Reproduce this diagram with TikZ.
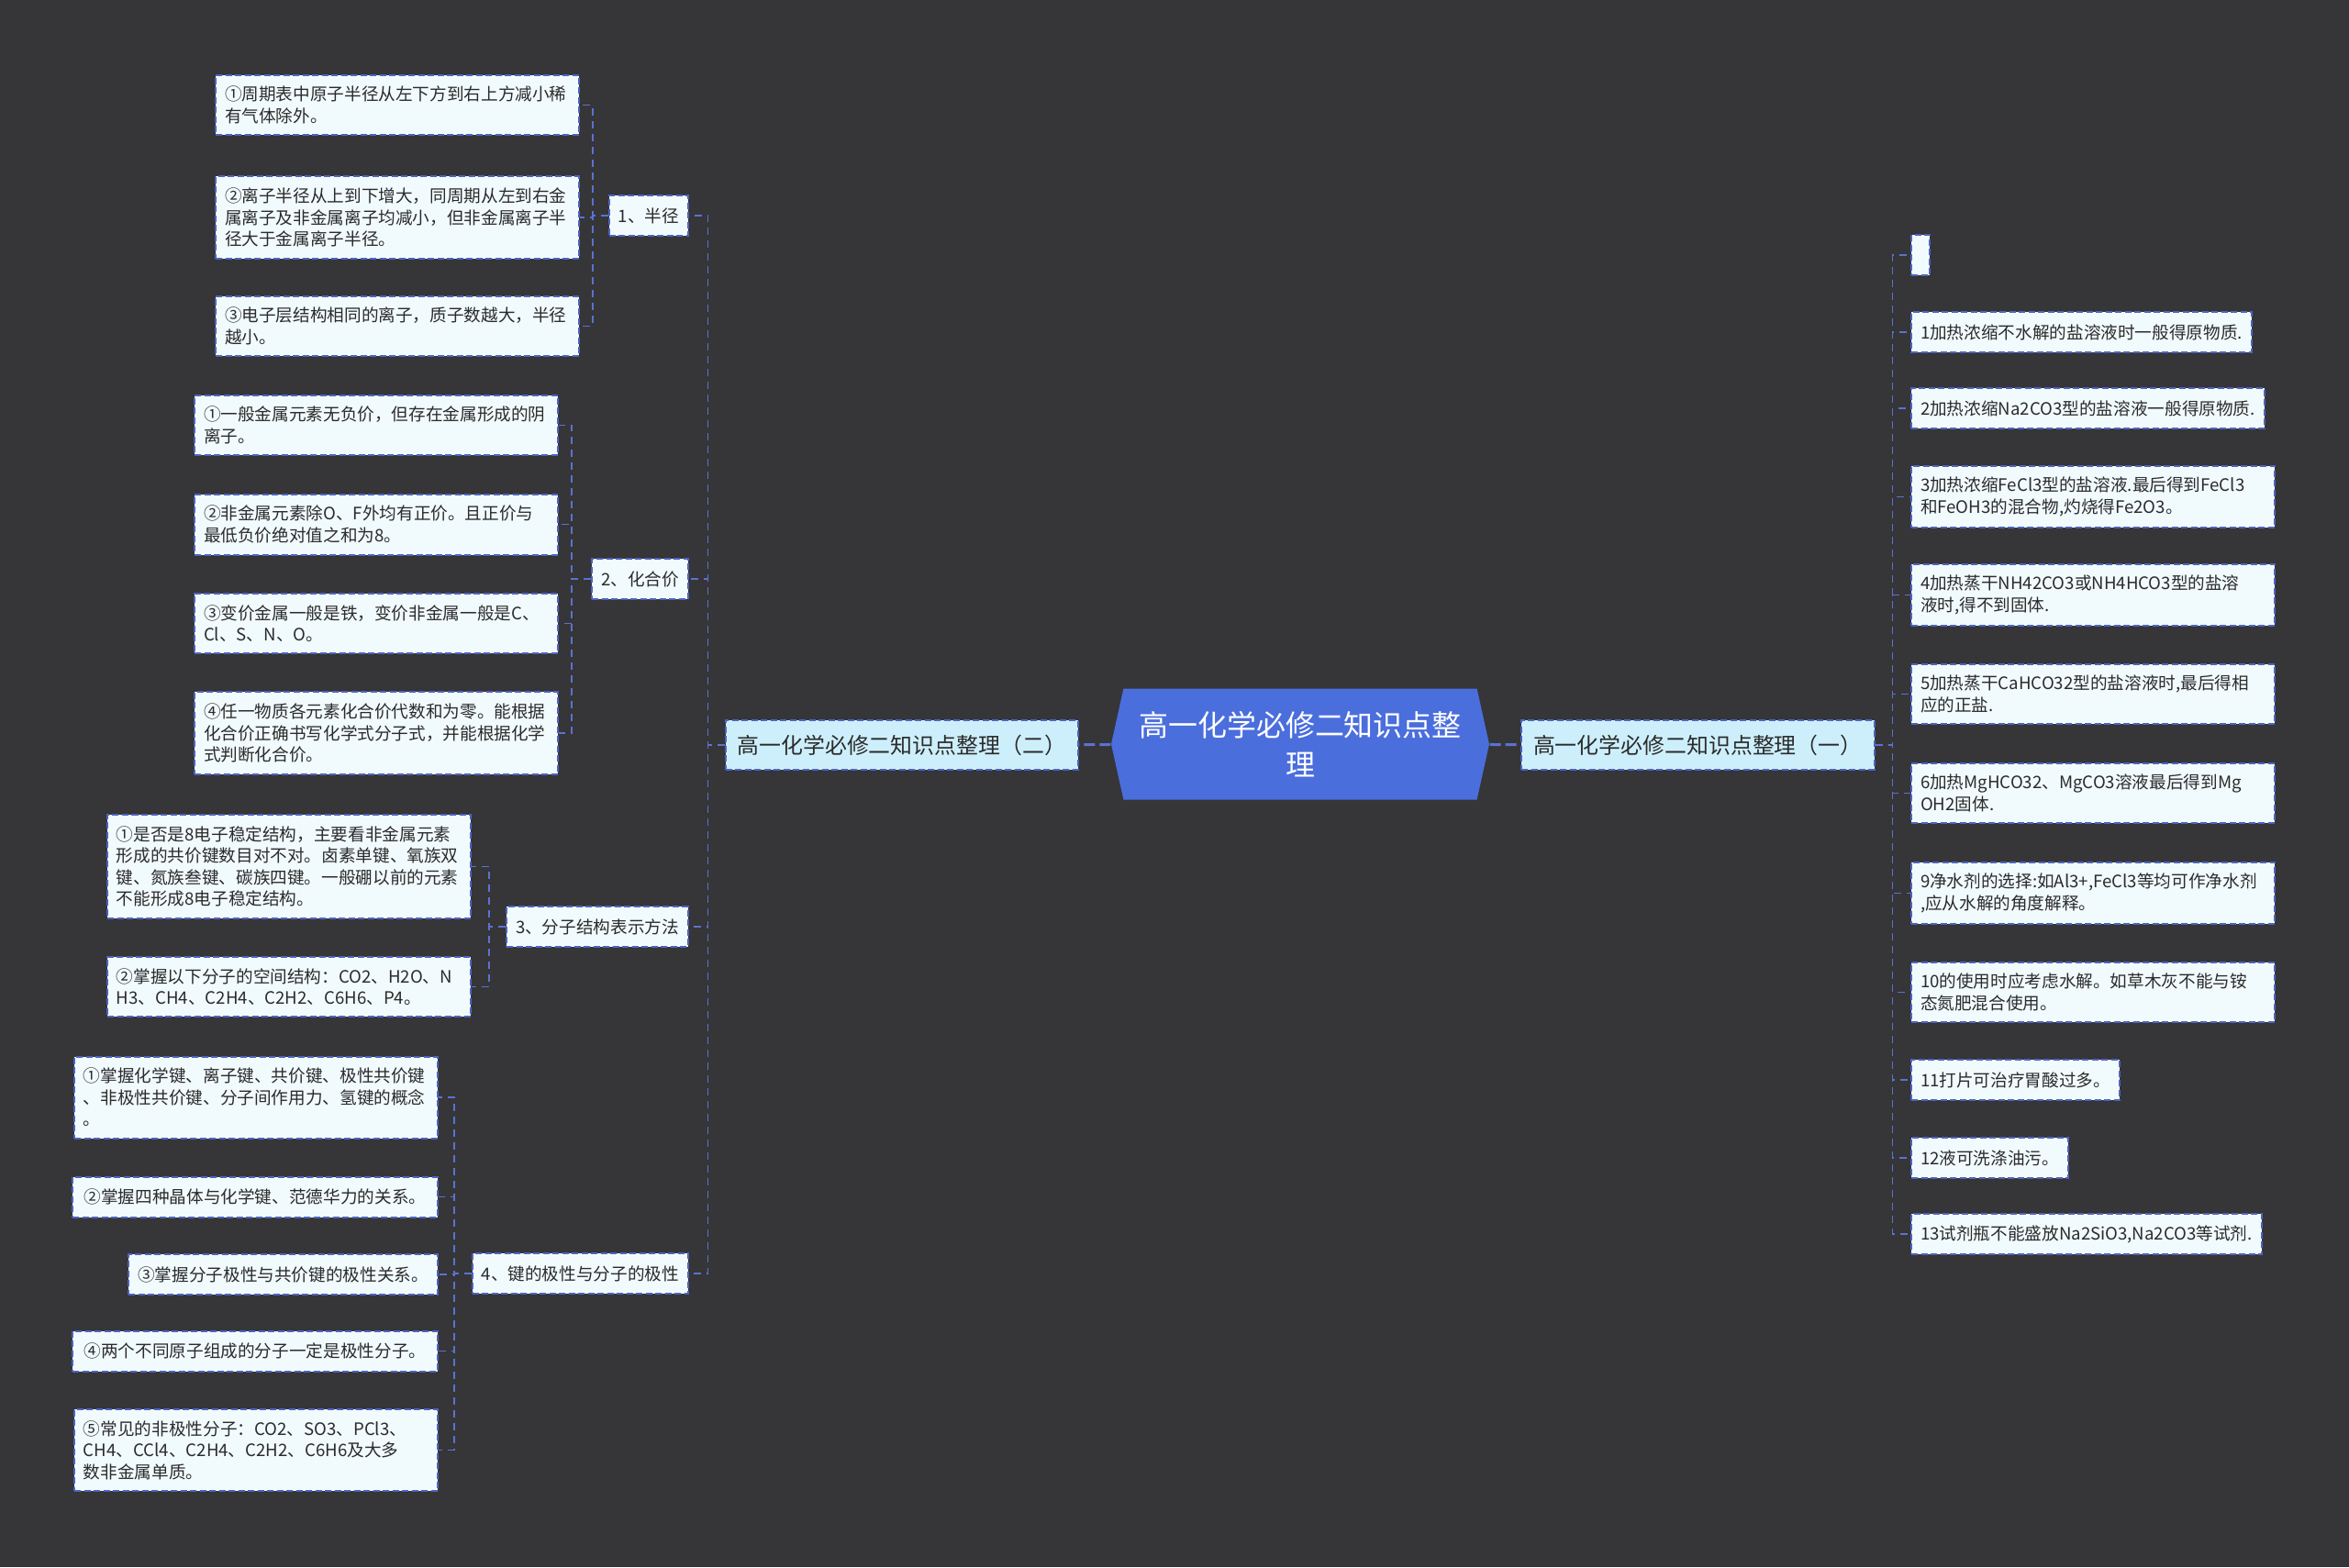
\documentclass[tikz,border=0pt]{standalone}
\usepackage{fontspec}
\newfontfamily\cjk{Noto Sans CJK SC}
\usetikzlibrary{shapes.symbols}

\definecolor{bgdark}{HTML}{363538}
\definecolor{leaffill}{HTML}{F1FAFD}
\definecolor{branchfill}{HTML}{CDEFFB}
\definecolor{rootblue}{HTML}{4B6EDD}
\definecolor{edgeblue}{HTML}{4D64C2}
\definecolor{linkblue}{HTML}{5A73D0}
\definecolor{inkdark}{HTML}{2B2B2B}

\newcommand{\leaffont}{\cjk\fontsize{5.3pt}{6.7pt}\selectfont}
\newcommand{\branchfont}{\cjk\fontsize{6.8pt}{8pt}\selectfont}
\newcommand{\rootfont}{\cjk\fontsize{9.1pt}{12.1pt}\selectfont}

\tikzset{
  leaf/.style={draw=edgeblue,dash pattern=on 0.07cm off 0.035cm,line width=0.02cm,
    fill=leaffill,text=inkdark,font=\leaffont,inner xsep=0.1cm,inner ysep=0.125cm,
    minimum height=0.44cm,align=left},
  longleaf/.style={leaf,text width=3.76cm},
  topic/.style={leaf},
  branch/.style={leaf,fill=branchfill,font=\branchfont,inner xsep=0.13cm,minimum height=0.54cm},
  root/.style={signal,signal to=east and west,signal pointer angle=155,fill=rootblue,
    text=white,font=\rootfont,align=center,minimum width=4.12cm,minimum height=1.21cm},
  link/.style={linkblue,dash pattern=on 0.08cm off 0.06cm,line width=0.018cm},
  trunk/.style={linkblue,dash pattern=on 0.12cm off 0.05cm,line width=0.03cm}
}

\begin{document}
\begin{tikzpicture}
  \fill[bgdark] (0,0) rectangle (25.6,-17.08);
  \useasboundingbox (0,0) rectangle (25.6,-17.08);

  % centre and the two halves
  \node[root] (root) at (14.17,-8.11) {高一化学必修二知识点整\\理};
  \node[branch,anchor=west] (br1) at (16.57,-8.12) {高一化学必修二知识点整理（一）};
  \node[branch,anchor=east] (br2) at (11.76,-8.12) {高一化学必修二知识点整理（二）};
  \draw[trunk] (root) -- (br1);
  \draw[trunk] (root) -- (br2);

  % right half
  \node[leaf,anchor=west] (p0) at (20.82,-2.78) {};
  \node[leaf,anchor=west] (p1) at (20.82,-3.62) {1加热浓缩不水解的盐溶液时一般得原物质.};
  \node[leaf,anchor=west] (p2) at (20.82,-4.45) {2加热浓缩Na2CO3型的盐溶液一般得原物质.};
  \node[longleaf,anchor=west] (p3) at (20.82,-5.415) {3加热浓缩FeCl3型的盐溶液.最后得到FeCl3\\和FeOH3的混合物,灼烧得Fe2O3。};
  \node[longleaf,anchor=west] (p4) at (20.82,-6.485) {4加热蒸干NH42CO3或NH4HCO3型的盐溶\\液时,得不到固体.};
  \node[longleaf,anchor=west] (p5) at (20.82,-7.565) {5加热蒸干CaHCO32型的盐溶液时,最后得相\\应的正盐.};
  \node[longleaf,anchor=west] (p6) at (20.82,-8.645) {6加热MgHCO32、MgCO3溶液最后得到Mg\\OH2固体.};
  \node[longleaf,anchor=west] (p7) at (20.82,-9.735) {9净水剂的选择:如Al3+,FeCl3等均可作净水剂\\,应从水解的角度解释。};
  \node[longleaf,anchor=west] (p8) at (20.82,-10.815) {10的使用时应考虑水解。如草木灰不能与铵\\态氮肥混合使用。};
  \node[leaf,anchor=west] (p9) at (20.82,-11.77) {11打片可治疗胃酸过多。};
  \node[leaf,anchor=west] (p10) at (20.82,-12.62) {12液可洗涤油污。};
  \node[leaf,anchor=west] (p11) at (20.82,-13.45) {13试剂瓶不能盛放Na2SiO3,Na2CO3等试剂.};

  \draw[link] (br1.east) -- ++(0.19,0) |- (p0.west);
  \draw[link] (br1.east) -- ++(0.19,0) |- (p1.west);
  \draw[link] (br1.east) -- ++(0.19,0) |- (p2.west);
  \draw[link] (br1.east) -- ++(0.19,0) |- (p3.west);
  \draw[link] (br1.east) -- ++(0.19,0) |- (p4.west);
  \draw[link] (br1.east) -- ++(0.19,0) |- (p5.west);
  \draw[link] (br1.east) -- ++(0.19,0) |- (p6.west);
  \draw[link] (br1.east) -- ++(0.19,0) |- (p7.west);
  \draw[link] (br1.east) -- ++(0.19,0) |- (p8.west);
  \draw[link] (br1.east) -- ++(0.19,0) |- (p9.west);
  \draw[link] (br1.east) -- ++(0.19,0) |- (p10.west);
  \draw[link] (br1.east) -- ++(0.19,0) |- (p11.west);

  % left half: topics
  \node[topic,anchor=east] (r1) at (7.51,-2.35) {1、半径};
  \node[topic,anchor=east] (r2) at (7.51,-6.31) {2、化合价};
  \node[topic,anchor=east] (r3) at (7.51,-10.10) {3、分子结构表示方法};
  \node[topic,anchor=east] (r4) at (7.51,-13.88) {4、键的极性与分子的极性};
  \draw[link] (br2.west) -- ++(-0.18,0) |- (r1.east);
  \draw[link] (br2.west) -- ++(-0.18,0) |- (r2.east);
  \draw[link] (br2.west) -- ++(-0.18,0) |- (r3.east);
  \draw[link] (br2.west) -- ++(-0.18,0) |- (r4.east);

  % 1、半径
  \node[longleaf,anchor=east] (a1) at (6.32,-1.145) {①周期表中原子半径从左下方到右上方减小稀\\有气体除外。};
  \node[longleaf,anchor=east] (a2) at (6.32,-2.37) {②离子半径从上到下增大，同周期从左到右金\\属离子及非金属离子均减小，但非金属离子半\\径大于金属离子半径。};
  \node[longleaf,anchor=east] (a3) at (6.32,-3.555) {③电子层结构相同的离子，质子数越大，半径\\越小。};
  \draw[link] (r1.west) -- ++(-0.17,0) |- (a1.east);
  \draw[link] (r1.west) -- ++(-0.17,0) |- (a2.east);
  \draw[link] (r1.west) -- ++(-0.17,0) |- (a3.east);

  % 2、化合价
  \node[longleaf,anchor=east] (b1) at (6.09,-4.635) {①一般金属元素无负价，但存在金属形成的阴\\离子。};
  \node[longleaf,anchor=east] (b2) at (6.09,-5.715) {②非金属元素除O、F外均有正价。且正价与\\最低负价绝对值之和为8。};
  \node[longleaf,anchor=east] (b3) at (6.09,-6.795) {③变价金属一般是铁，变价非金属一般是C、\\Cl、S、N、O。};
  \node[longleaf,anchor=east] (b4) at (6.09,-7.99) {④任一物质各元素化合价代数和为零。能根据\\化合价正确书写化学式分子式，并能根据化学\\式判断化合价。};
  \draw[link] (r2.west) -- ++(-0.21,0) |- (b1.east);
  \draw[link] (r2.west) -- ++(-0.21,0) |- (b2.east);
  \draw[link] (r2.west) -- ++(-0.21,0) |- (b3.east);
  \draw[link] (r2.west) -- ++(-0.21,0) |- (b4.east);

  % 3、分子结构表示方法
  \node[longleaf,anchor=east] (c1) at (5.14,-9.445) {①是否是8电子稳定结构，主要看非金属元素\\形成的共价键数目对不对。卤素单键、氧族双\\键、氮族叁键、碳族四键。一般硼以前的元素\\不能形成8电子稳定结构。};
  \node[longleaf,anchor=east] (c2) at (5.14,-10.755) {②掌握以下分子的空间结构：CO2、H2O、N\\H3、CH4、C2H4、C2H2、C6H6、P4。};
  \draw[link] (r3.west) -- ++(-0.18,0) |- (c1.east);
  \draw[link] (r3.west) -- ++(-0.18,0) |- (c2.east);

  % 4、键的极性与分子的极性
  \node[longleaf,anchor=east] (d1) at (4.78,-11.96) {①掌握化学键、离子键、共价键、极性共价键\\、非极性共价键、分子间作用力、氢键的概念\\。};
  \node[leaf,anchor=east,minimum width=3.98cm] (d2) at (4.78,-13.045) {②掌握四种晶体与化学键、范德华力的关系。};
  \node[leaf,anchor=east] (d3) at (4.78,-13.89) {③掌握分子极性与共价键的极性关系。};
  \node[leaf,anchor=east,minimum width=3.98cm] (d4) at (4.78,-14.725) {④两个不同原子组成的分子一定是极性分子。};
  \node[longleaf,anchor=east] (d5) at (4.78,-15.805) {⑤常见的非极性分子：CO2、SO3、PCl3、\\CH4、CCl4、C2H4、C2H2、C6H6及大多\\数非金属单质。};
  \draw[link] (r4.west) -- ++(-0.19,0) |- (d1.east);
  \draw[link] (r4.west) -- ++(-0.19,0) |- (d2.east);
  \draw[link] (r4.west) -- ++(-0.19,0) |- (d3.east);
  \draw[link] (r4.west) -- ++(-0.19,0) |- (d4.east);
  \draw[link] (r4.west) -- ++(-0.19,0) |- (d5.east);
\end{tikzpicture}
\end{document}
